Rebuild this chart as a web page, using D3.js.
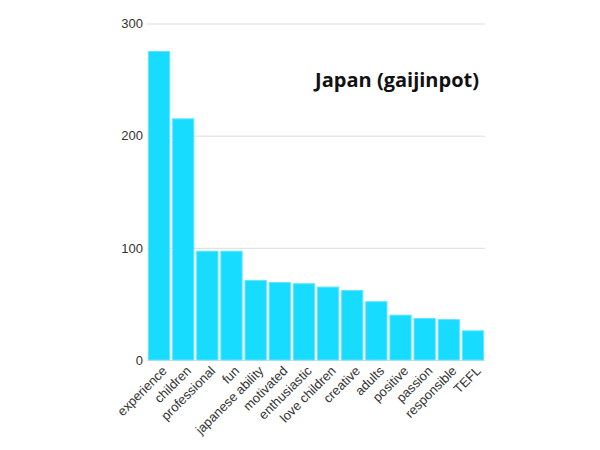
<!DOCTYPE html>
<html><head><meta charset="utf-8">
<script src="https://cdn.jsdelivr.net/npm/d3@7"></script>
<style>body{margin:0;background:#fff;}svg{display:block;}</style>
</head><body><svg id="c" width="600" height="450"></svg>
<script>
const categories = ["experience","children","professional","fun","japanese ability","motivated","enthusiastic","love children","creative","adults","positive","passion","responsible","TEFL"];
const values = [275,215,97,97,71,69,68,65,62,52,40,37,36,26];
const yTicks = [0,100,200,300];
const title = "Japan (gaijinpot)";

(function(){
const svg = d3.select("#c");
const mLeft = 147, mRight = 485, mTop = 23.5, mBottom = 360;
const x = d3.scaleBand().domain(categories).range([mLeft, mRight]).paddingInner(0.12).paddingOuter(0.06);
const y = d3.scaleLinear().domain([0,300]).range([mBottom, mTop]);

const gy = svg.append("g").attr("transform",`translate(${mLeft},0)`)
  .call(d3.axisLeft(y).tickValues(yTicks).tickSize(-(mRight-mLeft)).tickPadding(4));
gy.select(".domain").remove();
gy.selectAll(".tick line").attr("stroke","#dddddd");
gy.selectAll(".tick text").attr("fill","#333").style("font-family","Liberation Sans, Arial, sans-serif").style("font-size","13px");

svg.append("g").selectAll("rect").data(values).join("rect")
  .attr("x",(d,i)=>x(categories[i])).attr("width",x.bandwidth())
  .attr("y",d=>y(d)).attr("height",d=>mBottom-y(d))
  .attr("fill","#17dbff").attr("stroke","#5fe6ff").attr("stroke-width",1);

const gx = svg.append("g").attr("transform",`translate(0,${mBottom})`)
  .call(d3.axisBottom(x).tickSize(0).tickPadding(6));
gx.select(".domain").remove();
gx.selectAll(".tick text").attr("fill","#333").style("font-family","Liberation Sans, Arial, sans-serif").style("font-size","13px")
  .attr("text-anchor","end").attr("dy","0.7em").attr("transform","translate(-2,1) rotate(-45)");

svg.append("text").attr("x",479).attr("y",87).attr("text-anchor","end")
  .style("font-family","Open Sans, Noto Sans, sans-serif").style("font-weight","bold").style("font-size","20px").attr("fill","#111")
  .text(title);
})();
</script></body></html>
